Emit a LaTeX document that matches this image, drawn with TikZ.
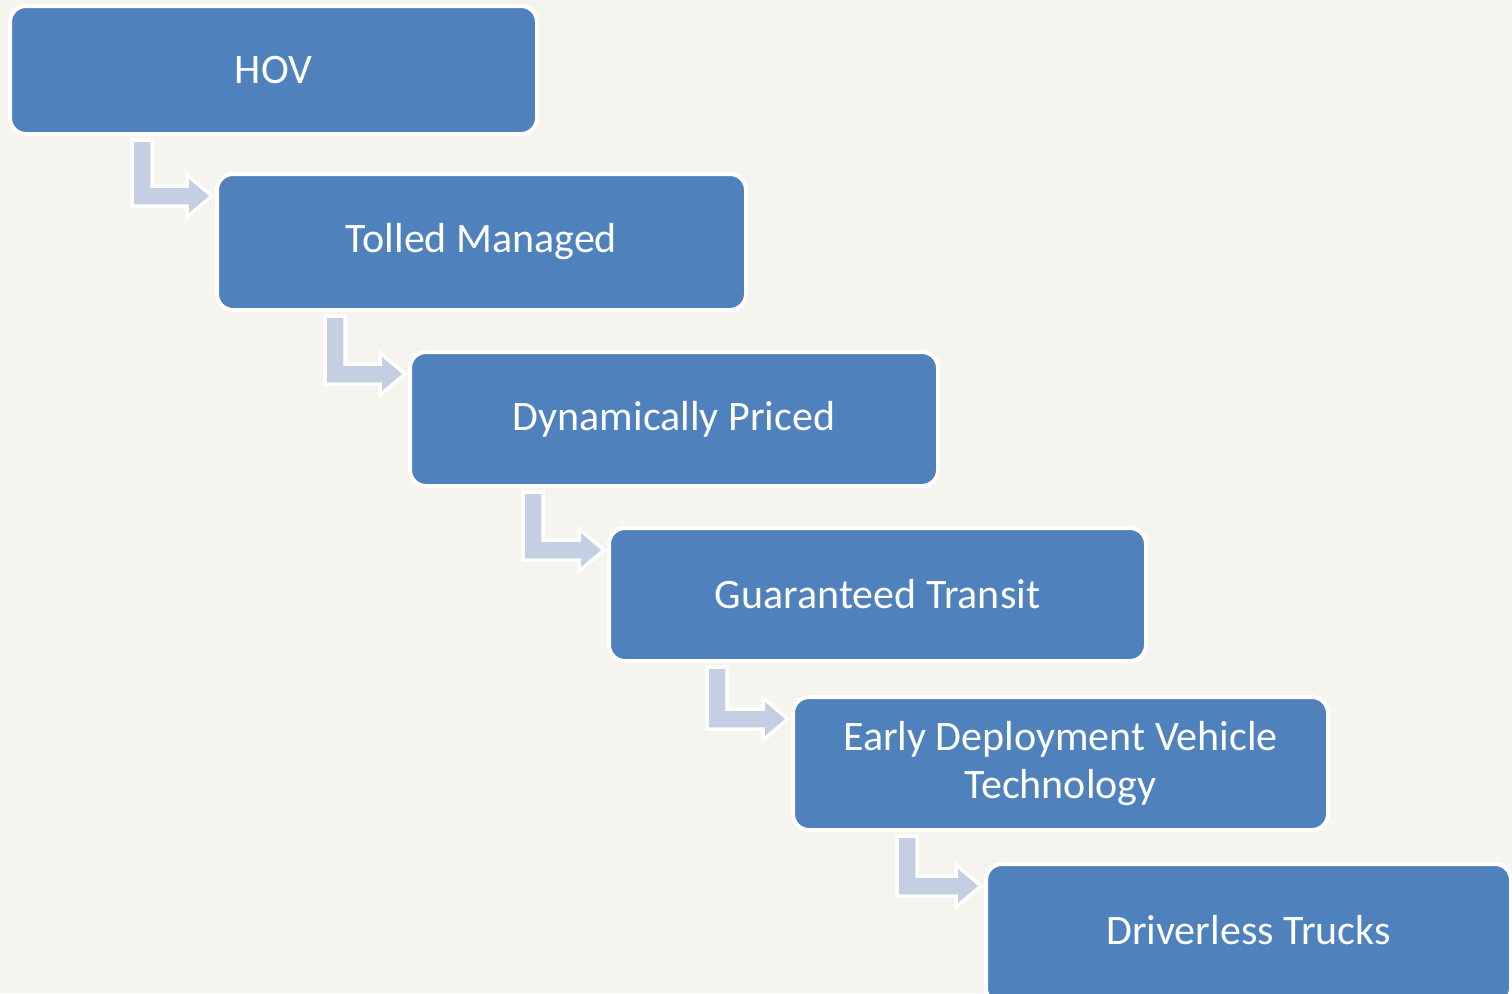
\documentclass[tikz,border=0pt]{standalone}
\usepackage{fontspec}
\setmainfont{Carlito}
\usetikzlibrary{calc}

\definecolor{boxblue}{HTML}{4F81BD}
\definecolor{paper}{HTML}{F5F4EF}
\definecolor{arrowgray}{HTML}{C5CFE3}

% bent arrow from one stage to the next
\newcommand{\steparrow}[3]{%
	\draw[steparrow] let \p1=(#1.south west), \p2=(#2.north west) in
		(\x1+#3,\y1-6pt) -- (\x1+#3+20pt,\y1-6pt) -- (\x1+#3+20pt,\y2-12pt)
		-- (\x2-30pt,\y2-12pt) -- (\x2-30pt,\y2-1pt) -- (\x2-5pt,\y2-22pt)
		-- (\x2-30pt,\y2-43pt) -- (\x2-30pt,\y2-32pt) -- (\x1+#3,\y2-32pt) -- cycle;}

\begin{document}
\begin{tikzpicture}[x=1pt,y=1pt,
	stage/.style={rectangle, rounded corners=16pt, fill=boxblue, draw=white, line width=4pt, outer sep=0pt, text=white, align=center, font=\fontsize{42}{48}\selectfont},
	steparrow/.style={fill=arrowgray, draw=white, line width=3.5pt, line join=miter}]

	\useasboundingbox (0,0) rectangle (1512,-993);
	\fill[paper] (0,0) rectangle (1512,-993);
	\clip (0,0) rectangle (1512,-993);

	%Nodes
	\node[stage, minimum width=527pt, minimum height=128pt]	(hov)	at (273.5,-70) {HOV};
	\node[stage, minimum width=529pt, minimum height=136pt]	(toll)	at (481.5,-242) {Tolled Managed};
	\node[stage, minimum width=528pt, minimum height=134pt]	(dyn)	at (674,-419) {Dynamically Priced};
	\node[stage, minimum width=537pt, minimum height=133pt]	(gt)	at (877.5,-594.5) {Guaranteed Transit};
	\node[stage, minimum width=535pt, minimum height=133pt]	(edv)	at (1060.5,-763.5) {Early Deployment Vehicle\\Technology};
	\node[stage, anchor=north, minimum width=525pt, inner ysep=0pt, text height=80pt, text depth=60pt]	(dt)	at (1248.5,-864) {Driverless Trucks};

	%Arrows
	\steparrow{hov}{toll}{122pt}
	\steparrow{toll}{dyn}{108pt}
	\steparrow{dyn}{gt}{113pt}
	\steparrow{gt}{edv}{98pt}
	\steparrow{edv}{dt}{104pt}
\end{tikzpicture}
\end{document}
